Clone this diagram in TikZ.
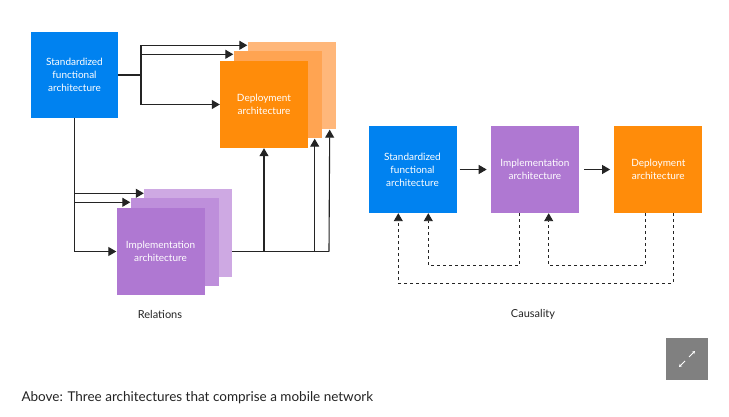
\documentclass[tikz,border=0pt]{standalone}
\usepackage{fontspec}
\setmainfont{Lato}
\usepackage{xcolor}
\usetikzlibrary{arrows.meta, positioning, calc}
\definecolor{ebl}{HTML}{0082F0}
\definecolor{epu}{HTML}{AF78D2}
\definecolor{epu2}{HTML}{BE8FDB}
\definecolor{epu3}{HTML}{CEA9E3}
\definecolor{eor}{HTML}{FF8C0A}
\definecolor{eor2}{HTML}{FFA452}
\definecolor{eor3}{HTML}{FFB77A}
\definecolor{ink}{HTML}{242424}
\tikzset{archbox/.style={rectangle,minimum width=88pt,minimum height=87pt,inner sep=0pt,align=center,text=white,font=\fontsize{10}{13}\selectfont},
         wire/.style={draw=ink,line width=1.1pt},
         arrow/.style={wire,-{Triangle[length=8pt,width=9pt]}},
         dasharrow/.style={arrow,line width=0.9pt,dashed},
         caption/.style={text=ink,font=\fontsize{11}{13}\selectfont}}

\begin{document}
\begin{tikzpicture}[x=1pt,y=-1pt]
    \useasboundingbox[fill=white] (0,0) rectangle (729,417);
    % Relations
    \node (sfa) [archbox, fill=ebl, minimum width=87pt, minimum height=86pt] at (74.5,75) {Standardized\\functional\\architecture};
    \node (dep3) [archbox, fill=eor3] at (291.5,86) {};
    \node (dep2) [archbox, fill=eor2] at (277.5,95) {};
    \node (dep1) [archbox, fill=eor] at (264,104.5) {Deployment\\architecture};
    \node (imp3) [archbox, fill=epu3] at (188,233) {};
    \node (imp2) [archbox, fill=epu2] at (174.5,242) {};
    \node (imp1) [archbox, fill=epu] at (160.5,251.5) {Implementation\\architecture};
    \coordinate (fork) at (141,75);
    \coordinate (join) at (329,251.5);
    \draw[wire] (sfa.east) -- (fork);
    \draw[arrow] (fork) |- ([yshift=-3pt]dep3.north west);
    \draw[arrow] (fork) |- ([yshift=-3pt]dep2.north west);
    \draw[arrow] (fork) |- (dep1.west);
    \draw[arrow] (sfa.south) |- (imp1.west);
    \draw[arrow] (sfa.south |- imp3.north) ++(0,4) -- ([yshift=-4pt]imp3.north west);
    \draw[arrow] (sfa.south |- imp2.north) ++(0,4) -- ([yshift=-4pt]imp2.north west);
    \draw[wire] (imp3.east |- join) -- (join);
    \draw[arrow] (dep1.south |- join) -- (dep1.south);
    \draw[arrow] ([xshift=-7pt]dep2.south east |- join) -- ([xshift=-7pt]dep2.south east);
    \draw[arrow] (join) -- ([xshift=-6pt]dep3.south east);
    \node (rel) [caption] at (160,314) {Relations};
    % Causality
    \node (csfa) [archbox, fill=ebl] at (412.5,169.5) {Standardized\\functional\\architecture};
    \node (cimp) [archbox, fill=epu, right=34pt of csfa] {Implementation\\architecture};
    \node (cdep) [archbox, fill=eor, right=35pt of cimp] {Deployment\\architecture};
    \draw[arrow, shorten <=3pt, shorten >=4pt] (csfa) -- (cimp);
    \draw[arrow, shorten <=5pt, shorten >=4pt] (cimp) -- (cdep);
    \draw[dasharrow] ([xshift=29pt]cimp.south west) -- ++(0,52) -| ([xshift=60pt]csfa.south west);
    \draw[dasharrow] ([xshift=31pt]cdep.south west) -- ++(0,52) -| ([xshift=58pt]cimp.south west);
    \draw[dasharrow] ([xshift=59pt]cdep.south west) -- ++(0,70) -| ([xshift=30pt]csfa.south west);
    \node (cau) [caption] at (533,314) {Causality};
    % expand icon and caption
    \node (icon) [rectangle, fill=black!50, minimum size=42pt, inner sep=0pt] at (687,359) {};
    \draw[white, line width=1pt, -{Stealth[length=3pt,width=3.5pt]}] ([shift={(2pt,2pt)}]icon.center) -- ++(6pt,6pt);
    \draw[white, line width=1pt, -{Stealth[length=3pt,width=3.5pt]}] ([shift={(-2pt,-2pt)}]icon.center) -- ++(-6pt,-6pt);
    \node (note) [caption, anchor=west, font=\fontsize{13.5}{15}\selectfont] at (18,398) {Above: Three architectures that comprise a mobile network};
\end{tikzpicture}
\end{document}
